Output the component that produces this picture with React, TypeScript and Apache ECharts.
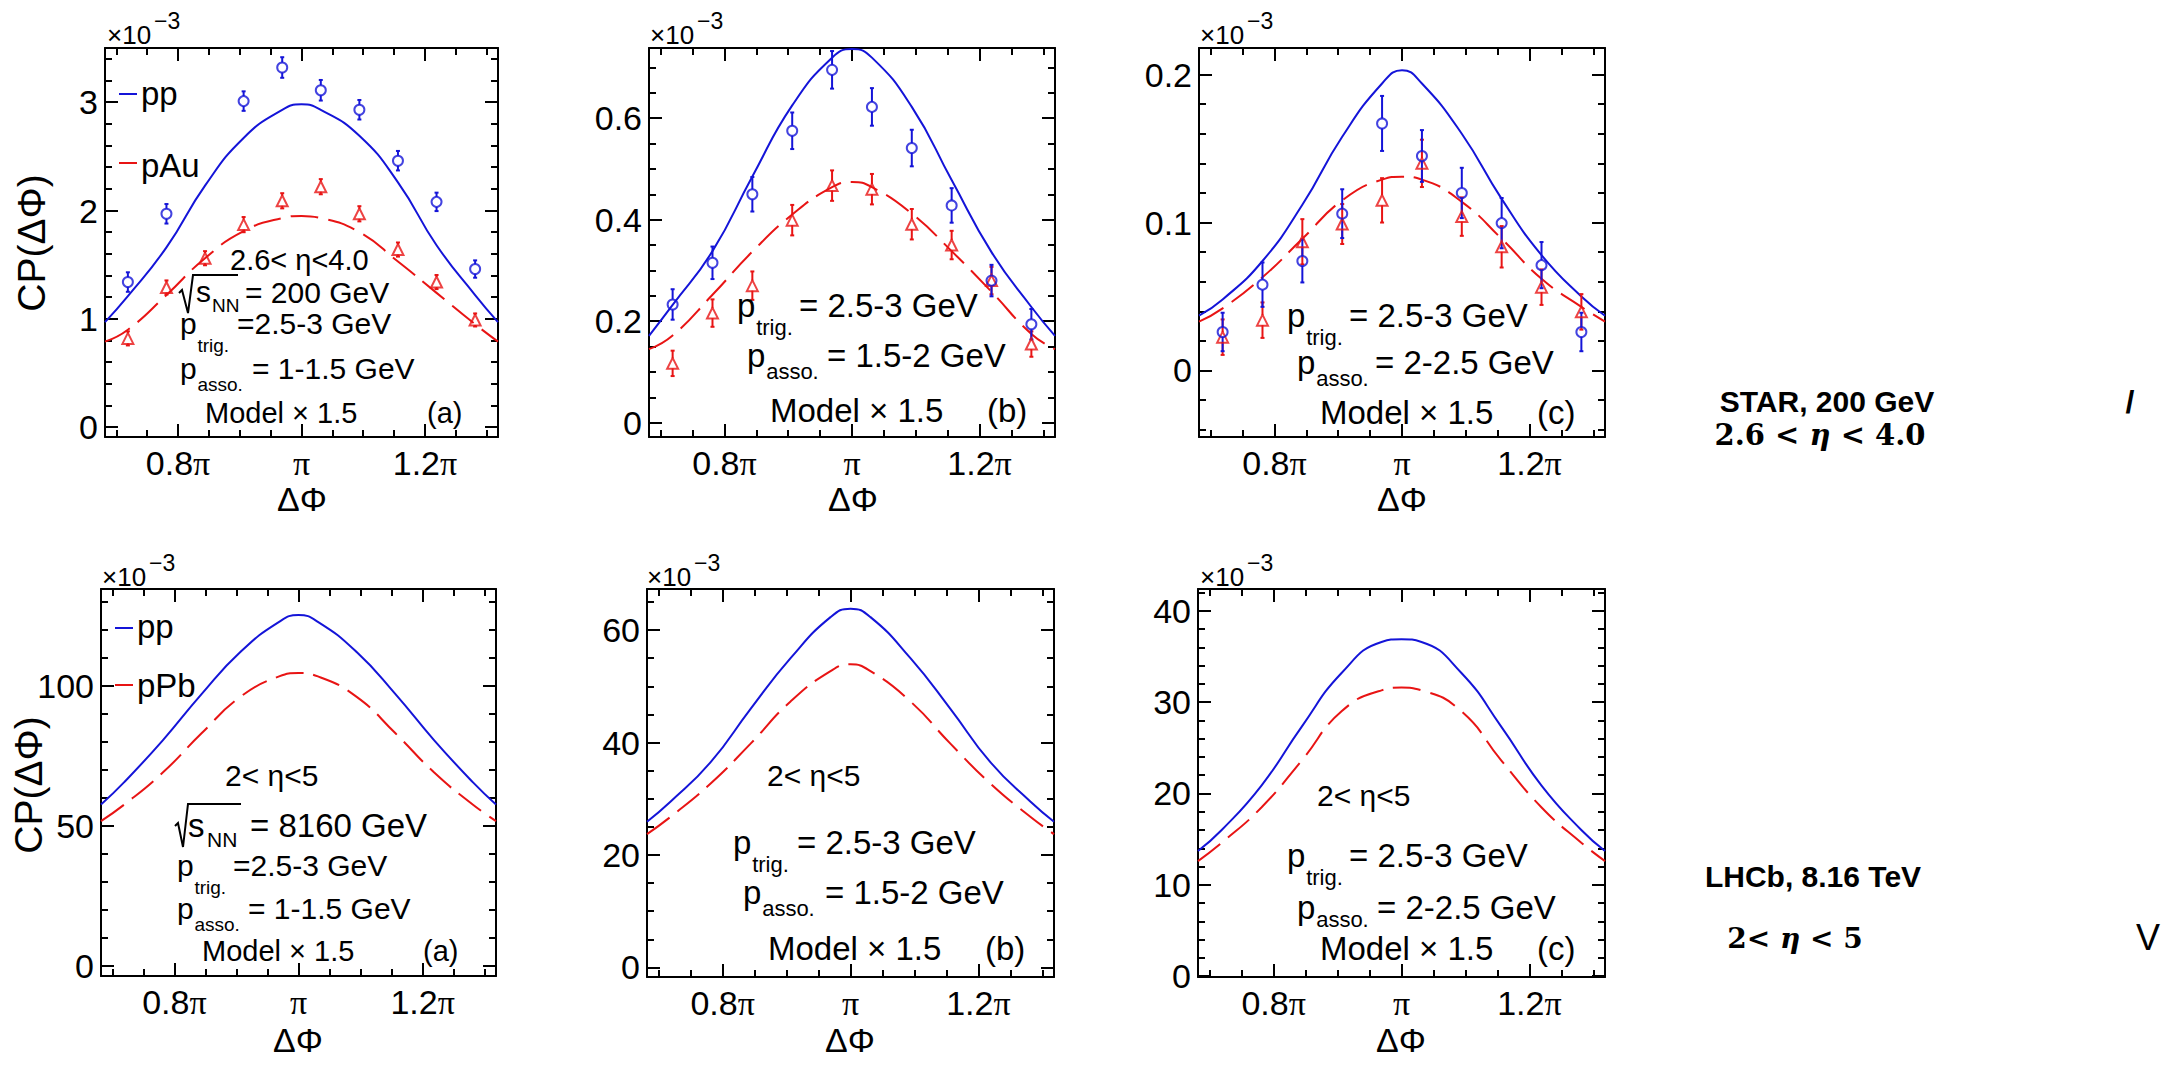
import React, { useEffect, useRef } from 'react';
import * as echarts from 'echarts';

const FONT = "'Liberation Sans', Arial, Helvetica, sans-serif";
const SERIF = "'Liberation Serif', 'Times New Roman', serif";
const BOLD_SANS = "'Liberation Sans', Arial, sans-serif";
const BOLD_SERIF = "'DejaVu Serif', 'Liberation Serif', serif";
const BLUE = '#1414d8';
const RED = '#e81414';
const BLACK = '#000';

// ΔΦ axis in units of π, spanning π ± 1 rad
const phiMin = 0.6817;
const phiMax = 1.3183;
const phiMajorTicks = [0.8, 1.0, 1.2];
const phiMinorTicks = [0.7, 0.75, 0.8, 0.85, 0.9, 0.95, 1.0, 1.05, 1.1, 1.15, 1.2, 1.25, 1.3];

// ΔΦ bin centres of the STAR points and the sampling of the model curves (units of π)
const binCenters = [0.71875, 0.78125, 0.84375, 0.90625, 0.96875, 1.03125, 1.09375, 1.15625, 1.21875, 1.28125];
const modelPhi = [0.6817, 0.71875, 0.78125, 0.84375, 0.90625, 0.96875, 1.0, 1.03125, 1.09375, 1.15625, 1.21875, 1.28125, 1.3183];

// ---- STAR, 200 GeV (×10^-3) ----
// (a) p_asso = 1-1.5 GeV
const starA_ppModel = [0.97, 1.21, 1.66, 2.23, 2.67, 2.93, 2.98, 2.93, 2.69, 2.26, 1.68, 1.22, 0.97];
const starA_pAuModel = [0.79, 0.9, 1.22, 1.56, 1.81, 1.93, 1.95, 1.93, 1.8, 1.53, 1.24, 0.95, 0.79];
const starA_ppData = [1.34, 1.97, null, 3.01, 3.32, 3.11, 2.93, 2.46, 2.08, 1.46];
const starA_ppErr = [0.09, 0.09, null, 0.09, 0.095, 0.095, 0.09, 0.09, 0.085, 0.08];
const starA_pAuData = [0.82, 1.29, 1.56, 1.87, 2.09, 2.22, 1.97, 1.64, 1.34, 0.99];
const starA_pAuErr = [0.065, 0.065, 0.065, 0.07, 0.07, 0.07, 0.07, 0.065, 0.065, 0.06];

// (b) p_asso = 1.5-2 GeV
const starB_ppModel = [0.171, 0.232, 0.338, 0.485, 0.625, 0.719, 0.736, 0.719, 0.622, 0.478, 0.336, 0.228, 0.171];
const starB_pAuModel = [0.145, 0.172, 0.252, 0.337, 0.41, 0.464, 0.474, 0.464, 0.412, 0.338, 0.258, 0.175, 0.145];
const starB_ppData = [0.233, 0.315, 0.45, 0.575, 0.695, 0.622, 0.541, 0.428, 0.28, 0.194];
const starB_ppErr = [0.03, 0.032, 0.034, 0.036, 0.037, 0.037, 0.036, 0.034, 0.031, 0.03];
const starB_pAuData = [0.117, 0.216, 0.27, 0.399, 0.467, 0.46, 0.391, 0.35, 0.28, 0.155];
const starB_pAuErr = [0.025, 0.027, 0.028, 0.03, 0.03, 0.03, 0.03, 0.028, 0.027, 0.025];

// (c) p_asso = 2-2.5 GeV
const starC_ppModel = [0.037, 0.048, 0.074, 0.112, 0.158, 0.194, 0.203, 0.194, 0.16, 0.116, 0.078, 0.05, 0.037];
const starC_pAuModel = [0.033, 0.042, 0.063, 0.089, 0.115, 0.129, 0.131, 0.129, 0.114, 0.089, 0.062, 0.043, 0.033];
const starC_ppData = [0.026, 0.058, 0.074, 0.106, 0.167, 0.145, 0.12, 0.0996, 0.0712, 0.026];
const starC_ppErr = [0.013, 0.015, 0.0145, 0.0165, 0.0186, 0.0175, 0.017, 0.017, 0.0156, 0.013];
const starC_pAuData = [0.0225, 0.034, 0.087, 0.099, 0.115, 0.14, 0.104, 0.0836, 0.0563, 0.0396];
const starC_pAuErr = [0.012, 0.012, 0.0153, 0.0135, 0.015, 0.016, 0.013, 0.014, 0.012, 0.012];

// ---- LHCb, 8.16 TeV (×10^-3) ----
const lhcbA_ppModel = [57.6, 65.5, 80.5, 97, 112, 122.8, 125.2, 122.8, 112, 97, 80.5, 65.5, 57.6];
const lhcbA_pPbModel = [51.7, 57.5, 69, 83, 96, 103.3, 104.5, 103.3, 96, 83, 69, 57.5, 51.7];
const lhcbB_ppModel = [25.9, 29.5, 36.5, 46, 55, 62.3, 63.8, 62.3, 55, 46, 36.5, 29.5, 25.9];
const lhcbB_pPbModel = [23.7, 26.8, 32.7, 39.8, 47.3, 52.7, 53.9, 52.7, 47.3, 39.8, 32.7, 26.8, 23.7];
const lhcbC_ppModel = [13.7, 16.0, 20.9, 27.3, 33.2, 36.6, 36.9, 36.6, 33.2, 27.3, 20.9, 16.0, 13.7];
const lhcbC_pPbModel = [12.6, 14.6, 18.5, 23.6, 29.0, 31.3, 31.6, 31.3, 29.0, 23.6, 18.5, 14.6, 12.6];

// y tick values of each panel
const yMajorStarA = [0, 1, 2, 3];
const yMajorStarB = [0, 0.2, 0.4, 0.6];
const yMajorStarC = [0, 0.1, 0.2];
const yMajorLhcbA = [0, 50, 100];
const yMajorLhcbB = [0, 20, 40, 60];
const yMajorLhcbC = [0, 10, 20, 30, 40];

const steps = (a: number, b: number, step: number) => {
  const out: number[] = [];
  for (let v = a; v <= b + 1e-9; v += step) out.push(Math.round(v * 1e6) / 1e6);
  return out;
};

type Panel = {
  box: [number, number, number, number];
  yRange: [number, number];
  yMajor: number[];
  yMinor: number[];
  ppModel: number[];
  pAModel: number[];
  ppData?: (number | null)[];
  ppErr?: (number | null)[];
  pAData?: number[];
  pAErr?: number[];
};

const panels: Panel[] = [
  { box: [105, 48, 393, 389], yRange: [-0.09, 3.5], yMajor: yMajorStarA, yMinor: steps(0, 3.4, 0.2),
    ppModel: starA_ppModel, pAModel: starA_pAuModel, ppData: starA_ppData, ppErr: starA_ppErr, pAData: starA_pAuData, pAErr: starA_pAuErr },
  { box: [649, 48, 406, 389], yRange: [-0.028, 0.738], yMajor: yMajorStarB, yMinor: steps(0, 0.7, 0.05),
    ppModel: starB_ppModel, pAModel: starB_pAuModel, ppData: starB_ppData, ppErr: starB_ppErr, pAData: starB_pAuData, pAErr: starB_pAuErr },
  { box: [1199, 48, 406, 389], yRange: [-0.045, 0.218], yMajor: yMajorStarC, yMinor: steps(-0.04, 0.2, 0.02),
    ppModel: starC_ppModel, pAModel: starC_pAuModel, ppData: starC_ppData, ppErr: starC_ppErr, pAData: starC_pAuData, pAErr: starC_pAuErr },
  { box: [101, 589, 395, 387], yRange: [-3.6, 134.5], yMajor: yMajorLhcbA, yMinor: steps(0, 130, 10),
    ppModel: lhcbA_ppModel, pAModel: lhcbA_pPbModel },
  { box: [647, 589, 407, 388], yRange: [-1.7, 67.3], yMajor: yMajorLhcbB, yMinor: steps(0, 65, 5),
    ppModel: lhcbB_ppModel, pAModel: lhcbB_pPbModel },
  { box: [1198, 589, 407, 388], yRange: [-0.1, 42.4], yMajor: yMajorLhcbC, yMinor: steps(0, 42, 2),
    ppModel: lhcbC_ppModel, pAModel: lhcbC_pPbModel },
];

const TICK_FONT = 34;
const fmtPhi = (v: number) => (Math.abs(v - 1) < 1e-6 ? '{p|π}' : `{n|${Math.round(v * 10) / 10}}{p|π}`);
const fmtY = (v: number) => String(Math.round(v * 1000) / 1000);
const phiRich = {
  n: { fontFamily: FONT, fontSize: TICK_FONT, color: BLACK },
  p: { fontFamily: SERIF, fontSize: TICK_FONT, color: BLACK },
};

const frameLine = { show: true, onZero: false, lineStyle: { color: BLACK, width: 2 } };
const tickStyle = { color: BLACK, width: 2 };

function xAxesFor(gi: number) {
  const base = { type: 'value', gridIndex: gi, min: phiMin, max: phiMax, splitLine: { show: false }, silent: true };
  return [
    { ...base, position: 'bottom', axisLine: frameLine,
      axisTick: { show: true, inside: true, length: 13, customValues: phiMajorTicks, lineStyle: tickStyle },
      axisLabel: { show: true, customValues: phiMajorTicks, formatter: fmtPhi, rich: phiRich, fontSize: TICK_FONT, fontFamily: FONT, color: BLACK, margin: 9 } },
    { ...base, position: 'top', axisLine: frameLine,
      axisTick: { show: true, inside: true, length: 13, customValues: phiMajorTicks, lineStyle: tickStyle },
      axisLabel: { show: false } },
    { ...base, position: 'bottom', axisLine: { show: false, onZero: false },
      axisTick: { show: true, inside: true, length: 7, customValues: phiMinorTicks, lineStyle: tickStyle },
      axisLabel: { show: false } },
    { ...base, position: 'top', axisLine: { show: false, onZero: false },
      axisTick: { show: true, inside: true, length: 7, customValues: phiMinorTicks, lineStyle: tickStyle },
      axisLabel: { show: false } },
  ];
}

function yAxesFor(gi: number, p: Panel) {
  const base = { type: 'value', gridIndex: gi, min: p.yRange[0], max: p.yRange[1], splitLine: { show: false }, silent: true };
  return [
    { ...base, position: 'left', axisLine: frameLine,
      axisTick: { show: true, inside: true, length: 13, customValues: p.yMajor, lineStyle: tickStyle },
      axisLabel: { show: true, customValues: p.yMajor, formatter: fmtY, fontSize: TICK_FONT, fontFamily: FONT, color: BLACK, margin: 7 } },
    { ...base, position: 'right', axisLine: frameLine,
      axisTick: { show: true, inside: true, length: 13, customValues: p.yMajor, lineStyle: tickStyle },
      axisLabel: { show: false } },
    { ...base, position: 'left', axisLine: { show: false, onZero: false },
      axisTick: { show: true, inside: true, length: 7, customValues: p.yMinor, lineStyle: tickStyle },
      axisLabel: { show: false } },
    { ...base, position: 'right', axisLine: { show: false, onZero: false },
      axisTick: { show: true, inside: true, length: 7, customValues: p.yMinor, lineStyle: tickStyle },
      axisLabel: { show: false } },
  ];
}

function pointsOf(values: (number | null)[], errs: (number | null)[]) {
  const out: number[][] = [];
  binCenters.forEach((x, i) => {
    const v = values[i];
    const e = errs[i];
    if (v != null && e != null) out.push([x, v, e]);
  });
  return out;
}

function errorBarSeries(ai: number, data: number[][], color: string, gap: number) {
  return {
    type: 'custom', xAxisIndex: ai, yAxisIndex: ai, z: 3, silent: true,
    data,
    renderItem: (_params: any, api: any) => {
      const x = api.value(0), y = api.value(1), e = api.value(2);
      const c = api.coord([x, y]);
      const hi = api.coord([x, y + e]);
      const lo = api.coord([x, y - e]);
      const s = { stroke: color, lineWidth: 2 };
      const children: any[] = [];
      if (c[1] - gap > hi[1]) children.push({ type: 'line', shape: { x1: c[0], y1: hi[1], x2: c[0], y2: c[1] - gap }, style: s });
      if (c[1] + gap < lo[1]) children.push({ type: 'line', shape: { x1: c[0], y1: c[1] + gap, x2: c[0], y2: lo[1] }, style: s });
      children.push({ type: 'line', shape: { x1: c[0] - 2, y1: hi[1], x2: c[0] + 2, y2: hi[1] }, style: s });
      children.push({ type: 'line', shape: { x1: c[0] - 2, y1: lo[1], x2: c[0] + 2, y2: lo[1] }, style: s });
      return { type: 'group', children };
    },
  };
}

function seriesFor(i: number, p: Panel) {
  const ai = i * 4;
  const out: any[] = [
    { type: 'line', xAxisIndex: ai, yAxisIndex: ai, z: 2, smooth: true, showSymbol: false, silent: true,
      data: modelPhi.map((x, k) => [x, p.ppModel[k]]), lineStyle: { color: BLUE, width: 2 } },
    { type: 'line', xAxisIndex: ai, yAxisIndex: ai, z: 2, smooth: true, showSymbol: false, silent: true,
      data: modelPhi.map((x, k) => [x, p.pAModel[k]]), lineStyle: { color: RED, width: 2, type: [28, 10] } },
  ];
  if (p.ppData && p.ppErr && p.pAData && p.pAErr) {
    const pp = pointsOf(p.ppData, p.ppErr);
    const pa = pointsOf(p.pAData, p.pAErr);
    out.push(errorBarSeries(ai, pa, RED, 5));
    out.push(errorBarSeries(ai, pp, BLUE, 5));
    out.push({ type: 'scatter', xAxisIndex: ai, yAxisIndex: ai, z: 4, silent: true, symbol: 'triangle', symbolSize: 11,
      data: pa.map((d) => [d[0], d[1]]), itemStyle: { color: 'rgba(0,0,0,0)', borderColor: RED, borderWidth: 2 } });
    out.push({ type: 'scatter', xAxisIndex: ai, yAxisIndex: ai, z: 4, silent: true, symbol: 'circle', symbolSize: 10,
      data: pp.map((d) => [d[0], d[1]]), itemStyle: { color: 'rgba(0,0,0,0)', borderColor: BLUE, borderWidth: 2 } });
  }
  return out;
}

// ---- annotation helpers ----
function txt(x: number, y: number, text: string, size: number, extra: any = {}) {
  const align = extra.align || 'left';
  return {
    type: 'text', x, y, z: 100, rotation: extra.rotation || 0, silent: true,
    style: {
      text, fontSize: size, fontFamily: extra.fontFamily || FONT, fontWeight: extra.fontWeight || 'normal',
      fontStyle: extra.fontStyle || 'normal', fill: extra.fill || BLACK,
      align, textAlign: align, verticalAlign: 'middle', textVerticalAlign: 'middle',
      rich: extra.rich,
    },
  };
}
function seg(x1: number, y1: number, x2: number, y2: number, color: string) {
  return { type: 'line', z: 100, silent: true, shape: { x1, y1, x2, y2 }, style: { stroke: color, lineWidth: 2 } };
}
function radical(pts: number[][]) {
  return { type: 'polyline', z: 100, silent: true, shape: { points: pts }, style: { stroke: BLACK, lineWidth: 2, fill: null } };
}
function scale10(x: number, y: number) {
  return [txt(x, y, '×10', 26), txt(x + 47, y - 14, '−3', 23)];
}
// p with a subscript, then the rest of the line
function pLine(x: number, y: number, sub: string, rest: string, restX: number, size: number, subSize: number, subDy: number) {
  return [txt(x, y, 'p', size), txt(x + size * 0.58, y + subDy, sub, subSize), txt(restX, y, rest, size)];
}
const etaRich = (size: number) => ({
  n: { fontFamily: BOLD_SERIF, fontWeight: 'bold', fontSize: size, fill: BLACK },
  e: { fontFamily: BOLD_SERIF, fontWeight: 'bold', fontStyle: 'italic', fontSize: size, fill: BLACK },
});

const graphics: any[] = [
  // axis titles
  txt(31, 243, 'CP(ΔΦ)', 39, { align: 'center', rotation: Math.PI / 2 }),
  txt(28, 785, 'CP(ΔΦ)', 39, { align: 'center', rotation: Math.PI / 2 }),
  txt(302, 499, 'ΔΦ', 34, { align: 'center' }),
  txt(853, 499, 'ΔΦ', 34, { align: 'center' }),
  txt(1402, 499, 'ΔΦ', 34, { align: 'center' }),
  txt(298, 1040, 'ΔΦ', 34, { align: 'center' }),
  txt(850, 1040, 'ΔΦ', 34, { align: 'center' }),
  txt(1401, 1040, 'ΔΦ', 34, { align: 'center' }),
  ...scale10(107, 35), ...scale10(650, 35), ...scale10(1200, 35),
  ...scale10(102, 577), ...scale10(647, 577), ...scale10(1200, 577),

  // STAR (a)
  seg(119, 94, 137, 94, BLUE), txt(141, 93, 'pp', 33),
  seg(119, 163, 137, 163, RED), txt(141, 165, 'pAu', 33),
  txt(230, 260, '2.6< η<4.0', 29),
  radical([[179, 293], [182, 290], [188, 313], [193, 275], [238, 275]]),
  txt(196, 291, 's', 30), txt(212, 305, 'NN', 19), txt(245, 292, '= 200 GeV', 30),
  ...pLine(180, 323, 'trig.', '=2.5-3 GeV', 237, 30, 19, 22),
  ...pLine(180, 368, 'asso.', '= 1-1.5 GeV', 252, 30, 19, 16),
  txt(205, 413, 'Model × 1.5', 29), txt(427, 413, '(a)', 29),

  // STAR (b)
  ...pLine(737, 305, 'trig.', '= 2.5-3 GeV', 799, 33, 22, 22),
  ...pLine(747, 355, 'asso.', '= 1.5-2 GeV', 827, 33, 22, 16),
  txt(770, 410, 'Model × 1.5', 33), txt(987, 410, '(b)', 33),

  // STAR (c)
  ...pLine(1287, 315, 'trig.', '= 2.5-3 GeV', 1349, 33, 22, 22),
  ...pLine(1297, 362, 'asso.', '= 2-2.5 GeV', 1375, 33, 22, 16),
  txt(1320, 412, 'Model × 1.5', 33), txt(1537, 412, '(c)', 33),

  // LHCb (a)
  seg(115, 628, 133, 628, BLUE), txt(137, 626, 'pp', 33),
  seg(115, 685, 133, 685, RED), txt(137, 685, 'pPb', 33),
  txt(225, 775, '2< η<5', 30),
  radical([[175, 826], [178, 823], [183, 847], [188, 804], [241, 804]]),
  txt(188, 825, 's', 33), txt(207, 839, 'NN', 21), txt(250, 825, '= 8160 GeV', 33),
  ...pLine(177, 865, 'trig.', '=2.5-3 GeV', 233, 30, 19, 22),
  ...pLine(177, 908, 'asso.', '= 1-1.5 GeV', 248, 30, 19, 16),
  txt(202, 951, 'Model × 1.5', 29), txt(423, 951, '(a)', 29),

  // LHCb (b)
  txt(767, 775, '2< η<5', 30),
  ...pLine(733, 842, 'trig.', '= 2.5-3 GeV', 797, 33, 22, 22),
  ...pLine(743, 892, 'asso.', '= 1.5-2 GeV', 825, 33, 22, 16),
  txt(768, 948, 'Model × 1.5', 33), txt(985, 948, '(b)', 33),

  // LHCb (c)
  txt(1317, 795, '2< η<5', 30),
  ...pLine(1287, 855, 'trig.', '= 2.5-3 GeV', 1349, 33, 22, 22),
  ...pLine(1297, 907, 'asso.', '= 2-2.5 GeV', 1377, 33, 22, 12),
  txt(1320, 948, 'Model × 1.5', 33), txt(1537, 948, '(c)', 33),

  // experiment labels on the right
  txt(1827, 401, 'STAR, 200 GeV', 30, { align: 'center', fontFamily: BOLD_SANS, fontWeight: 'bold' }),
  txt(1820, 435, '{n|2.6 < }{e|η}{n| < 4.0}', 29, { align: 'center', rich: etaRich(29) }),
  txt(1813, 876, 'LHCb, 8.16 TeV', 30, { align: 'center', fontFamily: BOLD_SANS, fontWeight: 'bold' }),
  txt(1795, 938, '{n|2< }{e|η}{n| < 5}', 28, { align: 'center', rich: etaRich(28) }),
  txt(2130, 402, '/', 32, { align: 'center', fontWeight: 'bold' }),
  txt(2148, 937, 'V', 36, { align: 'center' }),
];

export default function App() {
  const ref = useRef<HTMLDivElement>(null);
  useEffect(() => {
    document.body.style.margin = '0';
    if (!ref.current) return;
    const chart = echarts.init(ref.current, null, { renderer: 'svg' });
    chart.setOption({
      animation: false,
      backgroundColor: '#ffffff',
      grid: panels.map((p) => ({ left: p.box[0], top: p.box[1], width: p.box[2], height: p.box[3], containLabel: false, outerBoundsMode: 'none', show: false })),
      xAxis: panels.flatMap((_p, i) => xAxesFor(i)),
      yAxis: panels.flatMap((p, i) => yAxesFor(i, p)),
      series: panels.flatMap((p, i) => seriesFor(i, p)),
      graphic: { elements: graphics },
    } as any);
    return () => chart.dispose();
  }, []);
  return <div ref={ref} style={{ width: 2174, height: 1072 }} />;
}
